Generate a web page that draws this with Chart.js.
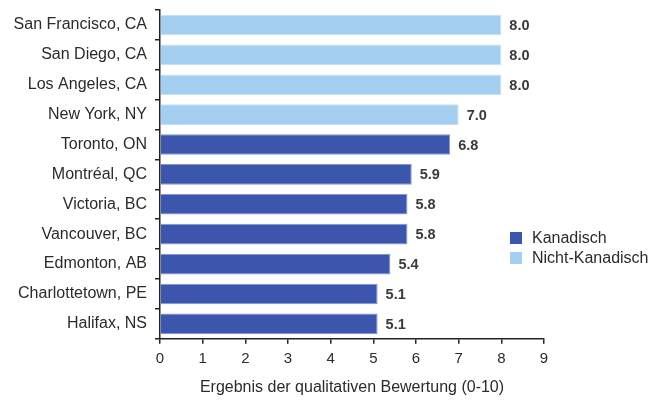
<!DOCTYPE html>
<html>
<head>
<meta charset="utf-8">
<script src="https://cdn.jsdelivr.net/npm/chart.js@4.4.1/dist/chart.umd.min.js"></script>
<style>
  html, body { margin: 0; padding: 0; background: #fff; }
  #wrap { width: 665px; height: 402px; }
</style>
</head>
<body>
<div id="wrap"><canvas id="chartStaedte"></canvas></div>
<script>
// Städte und Bewertungen (0-10)
var staedte = ['San Francisco, CA', 'San Diego, CA', 'Los Angeles, CA', 'New York, NY',
               'Toronto, ON', 'Montréal, QC', 'Victoria, BC', 'Vancouver, BC',
               'Edmonton, AB', 'Charlottetown, PE', 'Halifax, NS'];
var kanadisch      = [null, null, null, null, 6.8, 5.9, 5.8, 5.8, 5.4, 5.1, 5.1];
var nichtKanadisch = [8.0, 8.0, 8.0, 7.0, null, null, null, null, null, null, null];
var xTicks = [0, 1, 2, 3, 4, 5, 6, 7, 8, 9];

var farbeDunkel = '#3d56ad';
var farbeHell   = '#a5cff0';
var schrift     = '"Liberation Sans", Arial, sans-serif';
var textFarbe   = '#2b2b2b';

// Werte neben den Balken und Legende rechts
var beschriftung = {
    id: 'beschriftung',
    afterDatasetsDraw: function (chart) {
        var ctx = chart.ctx;
        ctx.save();
        ctx.font = 'bold 14.5px ' + schrift;
        ctx.fillStyle = '#3a3a3a';
        ctx.textBaseline = 'middle';
        ctx.textAlign = 'left';
        chart.data.datasets.forEach(function (ds, i) {
            chart.getDatasetMeta(i).data.forEach(function (bar, j) {
                if (ds.data[j] == null) return;
                ctx.fillText(ds.data[j].toFixed(1), bar.x + 8, bar.y + 1);
            });
        });

        var eintraege = [['Kanadisch', farbeDunkel], ['Nicht-Kanadisch', farbeHell]];
        ctx.font = '16px ' + schrift;
        eintraege.forEach(function (e, k) {
            var y = 238 + k * 20;
            ctx.fillStyle = e[1];
            ctx.fillRect(510, y - 6, 12, 12);
            ctx.fillStyle = textFarbe;
            ctx.fillText(e[0], 532, y + 1);
        });
        ctx.restore();
    }
};

new Chart(document.getElementById('chartStaedte').getContext('2d'), {
    type: 'bar',
    data: {
        labels: staedte,
        datasets: [{
            label: 'Kanadisch',
            data: kanadisch,
            backgroundColor: farbeDunkel,
            borderColor: '#8596d0',
            borderWidth: 1,
            borderSkipped: 'left'
        }, {
            label: 'Nicht-Kanadisch',
            data: nichtKanadisch,
            backgroundColor: farbeHell,
            borderColor: '#c4e3f7',
            borderWidth: 1,
            borderSkipped: 'left'
        }]
    },
    plugins: [beschriftung],
    options: {
        indexAxis: 'y',
        responsive: true,
        maintainAspectRatio: false,
        animation: false,
        datasets: {
            bar: { categoryPercentage: 1, barPercentage: 0.69 }
        },
        layout: { padding: { top: 10, right: 121, left: 0, bottom: 5 } },
        plugins: {
            legend: { display: false },
            tooltip: { enabled: false }
        },
        scales: {
            x: {
                min: 0,
                max: 9,
                afterBuildTicks: function (axis) {
                    axis.ticks = xTicks.map(function (v) { return { value: v }; });
                },
                border: { display: true, color: '#222', width: 1.5 },
                grid: { drawOnChartArea: false, drawTicks: true, tickLength: 5, color: '#222', lineWidth: 1.5 },
                ticks: { color: textFarbe, font: { family: schrift, size: 15 }, padding: 6, maxRotation: 0 },
                title: {
                    display: true,
                    text: 'Ergebnis der qualitativen Bewertung (0-10)',
                    color: textFarbe,
                    font: { family: schrift, size: 16 },
                    padding: { top: 4, bottom: 0 }
                }
            },
            y: {
                stacked: true,
                afterFit: function (axis) {
                    axis.width = 160;
                    axis.paddingTop = 0;
                    axis.paddingBottom = 0;
                },
                border: { display: true, color: '#222', width: 1.5 },
                grid: { drawOnChartArea: false, drawTicks: true, tickLength: 5, color: '#222', lineWidth: 1.5, offset: true },
                ticks: { color: textFarbe, font: { family: schrift, size: 16 }, padding: 8 }
            }
        }
    }
});
</script>
</body>
</html>
